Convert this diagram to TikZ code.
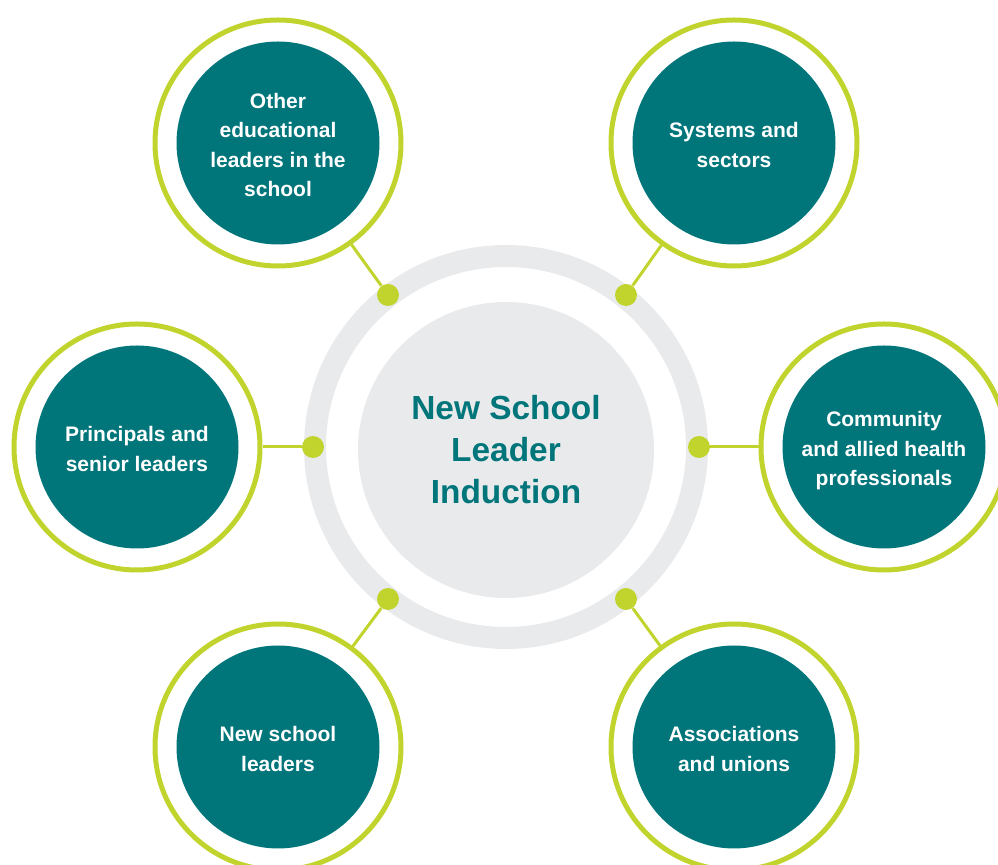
\documentclass[tikz,border=0pt]{standalone}
\usepackage{fontspec}
\setmainfont{Liberation Sans}
\definecolor{leadteal}{RGB}{0,117,122}
\definecolor{leadlime}{RGB}{192,212,45}
\definecolor{leadgrey}{RGB}{233,234,236}

\begin{document}
\begin{tikzpicture}[x=0.5pt,y=-0.5pt,
    topic/.style={circle,fill=leadteal,text=white,minimum size=101.5pt,inner sep=0pt,align=center,font=\fontsize{10.5}{14.75}\selectfont\bfseries},
    label/.style={text=white,align=center,font=\fontsize{10.5}{14.75}\selectfont\bfseries,yshift=-1pt},
    halo/.style={circle,draw=leadlime,line width=2.5pt,minimum size=123pt,inner sep=0pt},
    knob/.style={circle,fill=leadlime,minimum size=11pt,inner sep=0pt},
    link/.style={draw=leadlime,line width=1.5pt}]
    \useasboundingbox (0,0) rectangle (998,865);

    % Centre
    \node[circle,draw=leadgrey,line width=11pt,minimum size=191pt,inner sep=0pt] (ring) at (506,447) {};
    \node[circle,fill=leadgrey,minimum size=148pt,inner sep=0pt,align=center,text=leadteal,font=\fontsize{16.7}{21}\selectfont\bfseries] (hub) at (506,450) {New School\\Leader\\Induction};

    % Dots on the ring
    \node[knob] (d1) at (388,295) {};
    \node[knob] (d2) at (626,295) {};
    \node[knob] (d3) at (313,447) {};
    \node[knob] (d4) at (699,447) {};
    \node[knob] (d5) at (388,599) {};
    \node[knob] (d6) at (626,599) {};

    % Outer rings
    \node[halo] (h1) at (278,143) {};
    \node[halo] (h2) at (734,143) {};
    \node[halo] (h3) at (137,447) {};
    \node[halo] (h4) at (884,447) {};
    \node[halo] (h5) at (278,747) {};
    \node[halo] (h6) at (734,747) {};

    % Topic circles
    \node[topic] (t1) at (278,143) {};
    \node[topic] (t2) at (734,143) {};
    \node[topic] (t3) at (137,447) {};
    \node[topic] (t4) at (884,447) {};
    \node[topic] (t5) at (278,747) {};
    \node[topic] (t6) at (734,747) {};
    \node[label] (l1) at (t1) {Other\\educational\\leaders in the\\school};
    \node[label] (l2) at (t2) {Systems and\\sectors};
    \node[label] (l3) at (t3) {Principals and\\senior leaders};
    \node[label,yshift=-1pt] (l4) at (t4) {Community\\and allied health\\professionals};
    \node[label] (l5) at (t5) {New school\\leaders};
    \node[label] (l6) at (t6) {Associations\\and unions};

    % Connectors
    \draw[link] (d1) -- (h1);
    \draw[link] (d2) -- (h2);
    \draw[link] (d3) -- (h3);
    \draw[link] (d4) -- (h4);
    \draw[link] (d5) -- (h5);
    \draw[link] (d6) -- (h6);
\end{tikzpicture}
\end{document}
